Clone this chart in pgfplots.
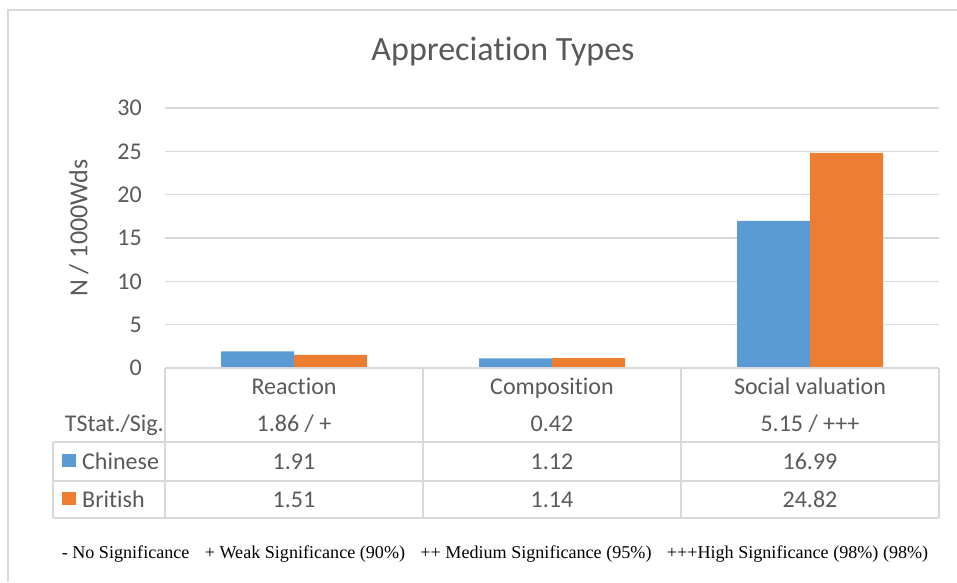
\documentclass[border=0pt]{standalone}
\usepackage{pgfplots}
\pgfplotsset{compat=1.18}
\usepackage{fontspec}
\setmainfont[Ligatures={NoCommon}]{Carlito}
\newfontfamily\tnr{Liberation Serif}
\definecolor{cblue}{HTML}{5B9BD5}
\definecolor{corange}{HTML}{ED7D31}
\definecolor{txt}{HTML}{595959}
\definecolor{grd}{HTML}{D9D9D9}
\newcommand{\bodyfont}{\fontsize{24}{28}\selectfont}
\begin{document}
\begin{tikzpicture}
\useasboundingbox (0pt,0pt) rectangle (957pt,-582pt);
\draw[grd, line width=1.3pt] (8pt,-582pt) -- (8pt,-10pt) -- (957pt,-10pt);
\begin{axis}[
  at={(165pt,-368pt)}, anchor=south west,
  scale only axis, width=774pt, height=260pt,
  xmin=-0.5, xmax=2.5, ymin=0, ymax=30,
  ybar=0pt, bar width=73pt,
  axis line style={draw=none},
  xtick=\empty,
  ytick={0,5,...,30},
  ymajorgrids, major grid style={grd, line width=1.2pt},
  major tick length=0pt,
  yticklabel style={font=\bodyfont, text=txt, inner sep=0pt, xshift=-23pt, anchor=east},
  /pgf/number format/assume math mode=true,
  clip=false,
]
\addplot[fill=cblue, draw=none] coordinates {(0,1.91) (1,1.12) (2,16.99)};
\addplot[fill=corange, draw=none] coordinates {(0,1.51) (1,1.14) (2,24.82)};
\end{axis}
% data table lines
\begin{scope}[grd, line width=1.3pt]
\draw (165pt,-368pt) -- (939pt,-368pt);
\foreach \x in {165,423,681,939} \draw (\x pt,-368pt) -- (\x pt,-518pt);
\foreach \y in {442,481,518} \draw (53pt,-\y pt) -- (939pt,-\y pt);
\draw (53pt,-442pt) -- (53pt,-518pt);
\end{scope}
\begin{scope}[every node/.style={inner sep=0pt, text=txt, font=\bodyfont}]
\node[anchor=base] at (294pt,-394pt) {Reaction};
\node[anchor=base] at (552pt,-394pt) {Composition};
\node[anchor=base] at (810pt,-394pt) {Social valuation};
\node[anchor=base east] at (164pt,-431pt) {TStat./Sig.};
\node[anchor=base] at (294pt,-431pt) {1.86 / +};
\node[anchor=base] at (552pt,-431pt) {0.42};
\node[anchor=base] at (810pt,-431pt) {5.15 / +++};
\node[anchor=base west] at (82pt,-469pt) {Chinese};
\node[anchor=base] at (294pt,-469pt) {1.91};
\node[anchor=base] at (552pt,-469pt) {1.12};
\node[anchor=base] at (810pt,-469pt) {16.99};
\node[anchor=base west] at (82pt,-507pt) {British};
\node[anchor=base] at (294pt,-507pt) {1.51};
\node[anchor=base] at (552pt,-507pt) {1.14};
\node[anchor=base] at (810pt,-507pt) {24.82};
\node[font=\fontsize{34}{40}\selectfont] at (503pt,-52pt) {Appreciation Types};
\node[font=\fontsize{26}{30}\selectfont, rotate=90] at (79pt,-228pt) {N / 1000Wds};
\end{scope}
\fill[cblue] (62pt,-454pt) rectangle (76pt,-467pt);
\fill[corange] (62pt,-492pt) rectangle (76pt,-505pt);
\node[inner sep=0pt, anchor=base, font=\tnr\fontsize{18.1}{22}\selectfont] at (495pt,-558pt)
  {- No Significance\hspace{0.6em} + Weak Significance (90\%)\hspace{0.6em} ++ Medium Significance (95\%)\hspace{0.6em} +++High Significance (98\%) (98\%)};
\end{tikzpicture}
\end{document}
